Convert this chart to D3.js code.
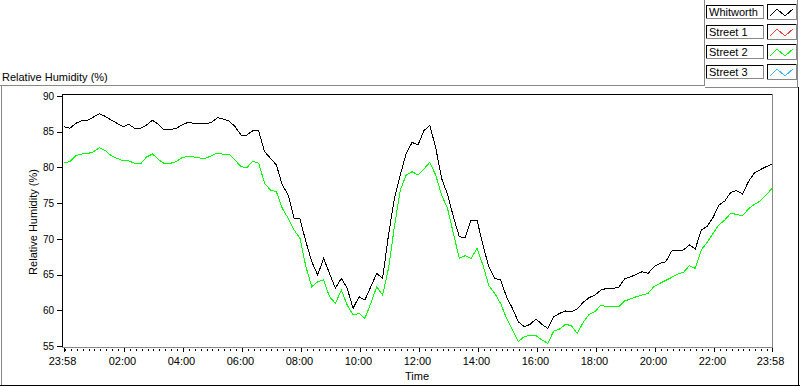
<!DOCTYPE html>
<html>
<head>
<meta charset="utf-8">
<script src="https://cdn.jsdelivr.net/npm/d3@7"></script>
<style>
  body { margin: 0; background: #fff; }
  svg { display: block; font-family: "Liberation Sans", Arial, sans-serif; font-size: 11px; }
</style>
</head>
<body>
<svg id="chart" width="800" height="386"></svg>
<script>
// readings every 12 minutes, 23:58 -> 23:58 next day
const START = new Date(2000, 0, 1, 23, 58);
const STEP_MIN = 12;

const whitworth = [
  85.70, 85.47, 86.17, 86.55, 86.60, 87.06, 87.52, 87.15, 86.64, 86.17,
  85.70, 86.03, 85.47, 85.47, 85.94, 86.60, 86.03, 85.24, 85.28, 85.47,
  85.94, 86.31, 86.17, 86.12, 86.12, 86.31, 86.96, 86.78, 86.50, 85.70,
  84.54, 84.54, 85.14, 85.10, 82.20, 81.27, 80.34, 77.54, 76.14, 72.87,
  72.78, 69.60, 66.80, 64.94, 67.27, 65.17, 63.07, 64.47, 63.07, 60.27,
  61.90, 61.44, 63.30, 65.17, 64.47, 70.54, 75.67, 78.94, 81.97, 83.50,
  83.14, 85.14, 85.90, 82.77, 78.47, 76.23, 73.10, 70.30, 70.17, 72.64,
  72.64, 69.14, 66.10, 64.47, 64.24, 61.90, 60.27, 58.40, 57.70, 58.03,
  58.78, 58.03, 57.47, 59.10, 59.57, 59.90, 59.80, 60.18, 61.11, 61.77,
  62.14, 62.84, 63.07, 63.07, 63.21, 64.38, 64.66, 65.03, 65.40, 65.17,
  66.10, 66.57, 66.80, 68.30, 68.35, 68.44, 69.14, 68.58, 71.24, 71.75,
  72.97, 74.74, 75.30, 76.51, 76.75, 76.28, 78.00, 79.22, 79.68, 80.10,
  80.43
];

const street2 = [
  80.67, 80.80, 81.65, 81.88, 81.93, 82.20, 82.77, 82.35, 81.65, 81.27,
  80.94, 80.90, 80.57, 80.52, 81.46, 81.88, 81.13, 80.52, 80.57, 80.80,
  81.36, 81.55, 81.46, 81.32, 81.27, 81.65, 82.02, 81.83, 81.83, 81.04,
  80.10, 79.96, 80.90, 80.57, 77.77, 76.84, 76.60, 74.27, 72.87, 71.24,
  70.07, 66.10, 63.30, 64.00, 64.24, 61.90, 60.97, 62.84, 60.74, 59.34,
  59.57, 58.87, 60.97, 63.30, 62.14, 65.87, 71.70, 76.84, 78.94, 79.40,
  78.94, 79.78, 80.70, 78.94, 76.14, 74.27, 70.77, 67.27, 67.65, 67.27,
  68.67, 66.34, 63.45, 62.37, 60.97, 58.87, 57.24, 55.60, 56.30, 56.54,
  56.45, 55.84, 55.37, 57.10, 57.38, 58.03, 57.85, 56.77, 58.31, 59.43,
  59.80, 60.74, 60.50, 60.50, 60.50, 61.30, 61.58, 61.90, 62.14, 62.37,
  63.35, 63.77, 64.19, 64.61, 65.08, 65.31, 66.25, 65.87, 68.44, 69.51,
  70.77, 71.94, 72.64, 73.57, 73.43, 73.24, 74.18, 74.83, 75.30, 76.14,
  77.07
];

const legendNames = ["Whitworth", "Street 1", "Street 2", "Street 3"];
const legendColors = ["#000000", "#ff3c3c", "#00ff00", "#3cb4ff"];
const yTicks = [55, 60, 65, 70, 75, 80, 85, 90];

const GRAY = "#888888";
const svg = d3.select("#chart");

const END = d3.timeMinute.offset(START, STEP_MIN * (whitworth.length - 1));
const x = d3.scaleTime().domain([START, END]).range([64, 772]);
const y = d3.scaleLinear().domain([55, 90]).range([346, 96]);

const toPoints = vals => vals.map((v, i) => ({ t: d3.timeMinute.offset(START, i * STEP_MIN), v }));

// outer panel frame
const line2 = (x1, y1, x2, y2, c) => svg.append("line")
  .attr("x1", x1).attr("y1", y1).attr("x2", x2).attr("y2", y2)
  .attr("stroke", c).attr("shape-rendering", "crispEdges");

line2(0, 85.5, 705, 85.5, GRAY);
line2(1.5, 85.5, 1.5, 386, GRAY);
line2(0, 385.5, 800, 385.5, "#000");
line2(798.5, 87, 798.5, 386, "#000");
line2(704.5, 0, 704.5, 86, GRAY);
line2(704.5, 87.5, 798, 87.5, GRAY);
line2(797.5, 0, 797.5, 87, GRAY);

svg.append("text").attr("x", 2).attr("y", 81).text("Relative Humidity (%)");

// plot frame
line2(62, 94.5, 773, 94.5, "#000");
line2(62.5, 94, 62.5, 348, "#000");
line2(62, 347.5, 773, 347.5, GRAY);
line2(772.5, 94, 772.5, 348, GRAY);

// y axis
const gy = svg.append("g").attr("transform", "translate(62,0)")
  .call(d3.axisLeft(y).tickValues(yTicks).tickSize(5).tickPadding(3));
gy.select(".domain").remove();
gy.selectAll(".tick line").attr("shape-rendering", "crispEdges");
gy.selectAll("text").attr("font-family", null).attr("font-size", null).attr("fill", "#000");

// x axis: major ticks every 2h plus both ends, minor every 12 min
const majors = [START].concat(d3.timeHour.every(2).range(d3.timeMinute.offset(START, 3), END)
  .filter(d => d.getHours() !== 0), [END]);
const minors = d3.timeMinute.every(12).range(START, END);
const fmt = d3.timeFormat("%H:%M");

const gx = svg.append("g").attr("transform", "translate(0,348)");
gx.selectAll(".minor").data(minors).join("line")
  .attr("x1", d => Math.round(x(d)) + 0.5).attr("x2", d => Math.round(x(d)) + 0.5)
  .attr("y1", 1).attr("y2", 3).attr("stroke", "#000").attr("shape-rendering", "crispEdges");
gx.selectAll(".major").data(majors).join("line")
  .attr("x1", d => Math.round(x(d)) + 0.5).attr("x2", d => Math.round(x(d)) + 0.5)
  .attr("y1", 0).attr("y2", 4).attr("stroke", "#000").attr("shape-rendering", "crispEdges");
gx.selectAll("text").data(majors).join("text")
  .attr("x", d => x(d) - 1.5).attr("y", 17).attr("text-anchor", "middle")
  .text(d => fmt(d));

svg.append("text").attr("x", 417).attr("y", 380).attr("text-anchor", "middle").text("Time");
svg.append("text").attr("transform", "translate(37,222) rotate(-90)")
  .attr("text-anchor", "middle").text("Relative Humidity (%)");

// series, drawn aliased like the original
const line = d3.line().x(d => x(d.t)).y(d => y(d.v));
svg.append("path").datum(toPoints(street2))
  .attr("d", line).attr("fill", "none").attr("stroke", legendColors[2])
  .attr("stroke-width", 1).attr("shape-rendering", "crispEdges");
svg.append("path").datum(toPoints(whitworth))
  .attr("d", line).attr("fill", "none").attr("stroke", legendColors[0])
  .attr("stroke-width", 1).attr("shape-rendering", "crispEdges");

// legend
const leg = svg.append("g");
legendNames.forEach((name, i) => {
  const top = 4 + i * 20;
  const g = leg.append("g");
  // text box
  line2(706, top + 1.5, 764, top + 1.5, "#000");
  line2(706.5, top + 1, 706.5, top + 15, "#000");
  line2(706, top + 14.5, 764, top + 14.5, GRAY);
  line2(763.5, top + 1, 763.5, top + 15, GRAY);
  g.append("text").attr("x", 709).attr("y", top + 12).text(name);
  // icon box
  line2(767, top + 0.5, 797, top + 0.5, "#000");
  line2(767.5, top, 767.5, top + 16, "#000");
  line2(767, top + 15.5, 797, top + 15.5, GRAY);
  line2(796.5, top, 796.5, top + 16, GRAY);
  g.append("path")
    .attr("d", `M770,${top + 12} L777,${top + 5} L785,${top + 12} L793,${top + 5}`)
    .attr("fill", "none").attr("stroke", legendColors[i]).attr("shape-rendering", "crispEdges");
});
</script>
</body>
</html>
